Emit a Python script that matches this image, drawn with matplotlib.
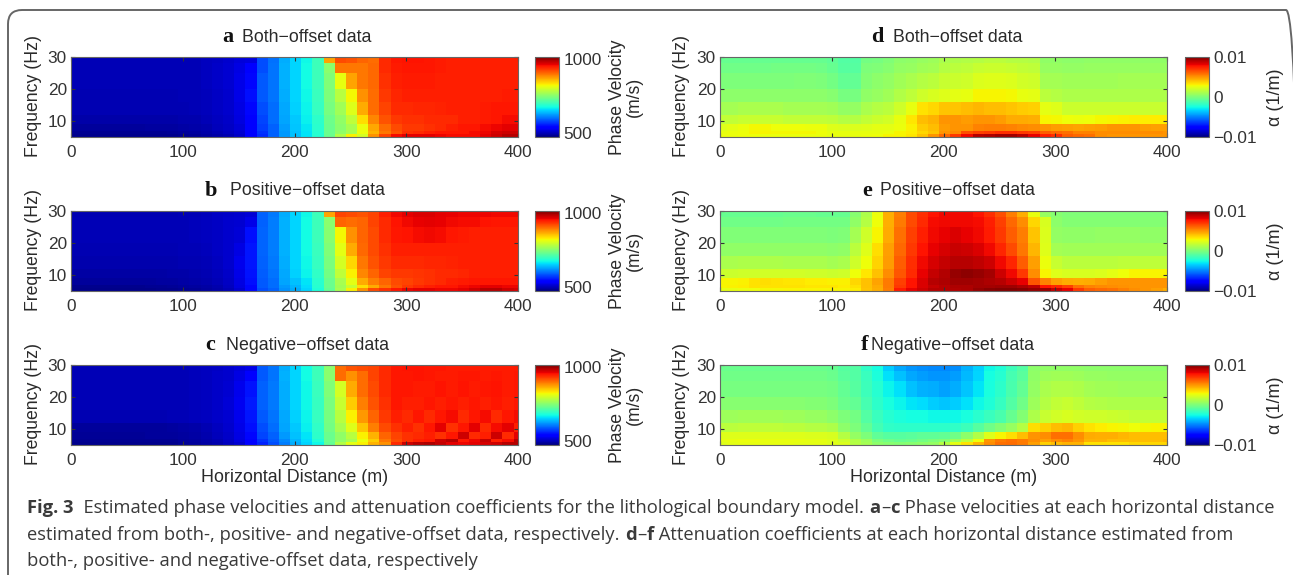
import numpy as np
from matplotlib import pyplot as plt
from matplotlib.patches import FancyBboxPatch
from matplotlib.transforms import IdentityTransform

W, H = 1293, 575

#cell edges
x_edges = [0, 6, 16, 26, 36, 46, 56, 66, 76, 86, 96, 106, 116, 126, 136, 146, 156, 166, 176, 186, 196,
           206, 216, 226, 236, 246, 256, 266, 276, 286, 296, 306, 316, 326, 336, 346, 356, 366, 376, 386, 396, 400]
f_edges = [5, 6, 7, 9, 12, 16, 20, 25, 28, 30]

#phase velocity (m/s), rows go from low to high frequency
vel_a = [
 [478,478,478,478,478,478,478,478,478,478, 480,482,485,490,495,505,530,560,590,620, 640,660,685,730,775,825,800,880,925,955, 965,965,965,960,955,955,955,965,975,985,985],
 [480,480,480,480,480,480,480,480,480,482, 484,486,490,495,500,510,530,565,590,620, 640,660,685,730,755,770,815,860,895,915, 935,940,945,950,950,950,955,960,970,975,975],
 [484,484,484,484,484,484,484,485,485,486, 488,490,493,498,503,512,530,570,590,622, 642,662,688,730,750,770,815,868,900,920, 930,930,935,940,945,950,950,955,960,965,965],
 [490,490,490,490,490,490,490,490,490,490, 492,493,496,500,505,515,535,575,595,625, 645,665,690,732,755,785,835,885,915,930, 935,935,938,940,940,945,945,948,950,955,955],
 [494,494,494,494,494,494,494,494,494,494, 495,496,498,502,507,518,540,580,597,628, 648,668,695,738,765,805,865,900,925,938, 940,942,942,943,945,945,946,948,950,950,950],
 [495,495,495,495,495,495,495,495,495,495, 496,497,499,503,508,520,545,585,600,630, 650,670,698,742,780,820,880,900,930,942, 945,945,945,945,945,945,945,945,945,948,948],
 [496,496,496,496,496,496,496,496,496,496, 497,497,500,504,509,520,540,585,600,632, 652,672,700,745,812,870,895,902,935,945, 948,948,948,946,945,945,945,945,945,945,945],
 [496,496,496,496,496,496,496,496,496,496, 497,497,500,504,509,518,530,580,600,632, 652,672,700,750,895,895,895,902,938,948, 950,950,950,948,946,945,945,945,945,945,945],
 [496,496,496,496,496,496,496,496,496,496, 497,497,500,503,508,514,516,578,598,630, 650,670,700,870,920,915,905,900,940,950, 952,952,950,948,946,945,945,945,945,945,945],
]
vel_b = [
 [476,476,476,476,476,476,476,476,477,478, 480,482,485,490,497,510,540,580,590,615, 630,650,680,725,770,825,880,920,935,950, 960,965,965,960,960,965,975,985,985,975,970],
 [478,478,478,478,478,478,478,479,480,481, 483,485,488,493,500,515,540,585,595,620, 635,655,685,730,765,790,835,865,895,915, 930,940,945,950,950,955,960,965,965,960,960],
 [483,483,483,483,483,483,484,484,485,486, 488,490,493,497,503,518,545,585,595,625, 640,660,688,730,770,810,865,890,905,920, 925,930,935,940,945,948,950,950,950,950,950],
 [488,488,488,488,488,488,488,489,489,490, 491,492,495,499,505,520,548,588,600,628, 648,668,692,735,785,825,885,905,925,930, 930,932,935,938,940,942,945,945,945,945,945],
 [492,492,492,492,492,492,492,492,492,493, 494,495,497,501,507,522,550,590,602,630, 650,670,696,740,800,840,895,915,930,938, 940,940,942,942,943,945,945,945,945,945,945],
 [495,495,495,495,495,495,495,495,495,495, 496,497,499,503,508,518,550,592,605,632, 652,672,698,745,810,865,902,920,935,945, 945,945,945,945,945,945,945,945,945,945,945],
 [496,496,496,496,496,496,496,496,496,496, 497,498,500,503,508,512,545,592,605,632, 652,672,700,748,820,880,905,920,938,950, 952,955,958,955,950,948,946,945,945,945,945],
 [496,496,496,496,496,496,496,496,496,496, 497,498,500,503,506,510,520,590,605,632, 652,672,700,750,905,900,905,925,940,952, 958,962,965,962,958,955,955,952,950,950,950],
 [495,495,495,495,495,495,495,495,495,495, 496,497,499,502,505,508,512,590,603,630, 650,670,700,870,925,920,915,925,945,958, 965,968,968,965,962,960,960,960,958,958,958],
]
vel_c = [
 [478,478,478,478,478,478,478,478,478,478, 481,484,488,493,500,510,530,555,580,605, 630,650,670,725,775,810,825,860,880,940, 975,985,990,980,965,960,965,970,975,985,985],
 [480,480,480,480,480,480,480,480,480,480, 483,486,490,495,503,515,535,565,585,610, 635,655,680,730,755,770,815,845,895,920, 935,945,950,975,985,950,960,980,945,955,985],
 [482,482,482,482,482,482,482,483,484,484, 486,489,493,498,505,518,540,575,590,620, 640,660,690,730,755,780,825,860,905,925, 935,940,945,935,950,975,940,945,975,940,965],
 [483,483,483,483,483,483,483,484,484,485, 488,490,495,500,507,520,545,580,595,625, 645,665,692,735,770,805,850,890,920,935, 945,935,950,965,935,950,965,940,955,965,945],
 [495,495,495,495,495,495,495,495,495,496, 497,498,500,504,510,522,550,585,600,628, 648,668,695,738,780,825,875,905,930,945, 940,950,940,950,955,940,950,955,940,950,955],
 [496,496,496,496,496,496,496,496,496,496, 497,498,501,505,511,525,552,590,602,630, 650,670,696,740,790,845,890,915,935,950, 945,945,950,945,950,945,950,945,950,945,950],
 [496,496,496,496,496,496,496,496,496,496, 497,498,500,504,510,522,548,590,602,630, 650,670,698,745,800,865,900,920,938,950, 950,948,948,952,948,952,948,950,952,948,950],
 [496,496,496,496,496,496,496,496,496,496, 497,498,500,504,508,518,530,585,600,632, 652,672,700,750,900,880,900,925,940,950, 950,952,950,948,948,950,950,948,950,948,950],
 [496,496,496,496,496,496,496,496,496,496, 497,498,500,503,507,514,520,585,600,630, 650,672,700,750,900,915,920,925,940,950, 952,952,950,950,948,948,948,948,948,948,948],
]

#attenuation coefficient in 1e-3 1/m, same row order
att_d = [
 [2.7,2.7,2.8,2.8,2.7,2.7,2.7,2.7,2.7,2.7, 2.6,2.6,2.6,2.7,2.8,3.0,3.0,3.3,4.0,5.0, 6.0,7.0,8.0,9.0,9.2,9.4,9.4,9.0,8.2,7.5, 7.2,6.2,6.0,5.8,5.2,5.0,5.0,5.0,5.0,5.0,5.0],
 [2.6,2.7,2.8,3.0,3.0,2.9,2.9,2.9,2.9,2.8, 2.6,2.6,2.6,2.6,2.6,2.7,3.0,3.2,3.6,4.0, 5.0,5.3,6.5,6.8,7.0,7.2,7.2,7.0,6.8,6.2, 6.0,5.8,5.4,5.4,5.2,5.2,5.2,5.2,5.2,5.2,5.0],
 [2.4,2.5,2.7,2.9,2.9,2.8,2.8,2.8,2.7,2.7, 2.4,2.3,2.3,2.4,2.5,2.5,2.7,3.1,3.9,4.2, 4.9,5.0,5.0,5.4,5.5,5.5,5.4,5.3,5.2,5.0, 4.9,4.8,4.7,4.8,4.9,5.0,5.0,5.0,4.9,4.8,4.8],
 [1.7,1.7,1.8,1.8,1.8,1.8,1.7,1.7,1.7,1.7, 1.6,1.4,1.4,1.7,1.9,2.1,2.6,3.3,4.2,4.4, 5.0,5.0,4.9,5.0,5.0,4.9,4.6,4.6,4.5,3.0, 2.9,2.8,2.7,2.8,2.9,3.0,3.1,3.2,3.2,3.2,3.2],
 [1.0,1.0,1.1,1.1,1.1,1.1,1.0,1.0,1.0,1.0, 0.9,0.6,0.6,1.1,1.4,1.5,2.0,2.6,3.4,3.6, 4.0,4.0,4.2,4.3,4.2,4.2,4.0,3.9,3.8,2.5, 2.4,1.9,1.9,1.9,1.9,1.9,1.9,1.9,1.8,1.8,1.8],
 [0.4,0.4,0.4,0.4,0.4,0.4,0.4,0.4,0.4,0.4, 0.3,-0.1,-0.1,0.5,0.7,0.9,1.3,1.6,2.0,2.2, 2.4,2.5,2.6,3.0,3.0,3.0,2.9,2.6,2.5,1.5, 1.4,1.2,1.2,1.2,1.2,1.2,1.2,1.2,1.2,1.2,1.2],
 [0.0,0.0,0.0,0.0,0.0,0.0,0.0,0.1,0.1,0.0, -0.2,-0.6,-0.6,0.2,0.4,0.6,0.9,1.1,1.4,1.5, 1.8,1.9,2.0,2.3,2.4,2.4,2.3,2.1,2.0,1.0, 1.0,0.9,0.9,0.9,0.9,0.9,1.0,1.0,1.0,1.0,1.0],
 [-0.3,-0.3,-0.3,-0.3,-0.3,-0.2,-0.2,-0.2,-0.2,-0.3, -0.5,-0.9,-0.9,0.0,0.1,0.3,0.6,0.7,0.9,1.0, 1.4,1.5,1.6,1.8,1.9,1.9,1.8,1.7,1.6,0.7, 0.7,0.6,0.6,0.7,0.7,0.7,0.7,0.7,0.7,0.7,0.7],
 [-0.5,-0.5,-0.5,-0.5,-0.5,-0.5,-0.5,-0.5,-0.5,-0.5, -0.7,-1.0,-1.0,-0.2,-0.1,0.1,0.4,0.5,0.7,0.8, 1.1,1.2,1.3,1.4,1.5,1.5,1.4,1.4,1.3,0.5, 0.5,0.4,0.4,0.5,0.5,0.5,0.5,0.5,0.5,0.5,0.5],
]
att_e = [
 [2.5,2.6,2.7,2.8,2.9,2.9,3.0,3.0,3.0,3.0, 3.0,3.0,3.2,4.0,4.5,5.5,7.6,8.2,8.6,9.0, 9.0,9.1,9.2,9.6,9.8,9.9,9.9,9.8,9.6,9.5, 8.8,8.2,7.0,6.2,6.0,5.8,5.5,5.2,5.0,4.8,4.5],
 [3.0,3.1,3.2,3.4,3.4,3.4,3.4,3.4,3.3,3.3, 3.3,3.2,3.4,4.1,4.6,5.6,7.0,7.8,8.4,8.8, 9.0,9.2,9.2,9.3,9.3,9.4,9.4,9.2,8.9,7.8, 7.4,6.8,5.8,5.4,5.3,5.2,5.1,5.0,5.0,5.0,5.0],
 [3.0,3.0,3.1,3.4,3.5,3.4,3.3,3.3,3.2,3.2, 3.1,3.1,3.6,4.1,4.7,5.6,6.8,7.8,8.4,9.0, 9.2,9.4,9.4,9.3,9.2,9.0,8.6,8.2,6.4,5.4, 4.8,4.6,4.5,4.6,4.8,5.0,5.0,5.0,5.0,5.0,5.0],
 [1.9,1.9,2.0,2.0,2.1,2.1,2.1,2.1,2.0,2.0, 1.9,2.0,2.8,3.3,4.1,5.2,6.4,7.3,8.2,8.8, 9.1,9.6,9.7,9.6,9.3,8.6,8.0,7.0,5.2,3.0, 2.4,2.2,2.2,2.2,2.3,2.5,2.8,3.0,3.0,3.0,3.0],
 [1.1,1.1,1.2,1.2,1.2,1.2,1.1,1.1,1.1,1.1, 1.0,1.1,2.0,2.8,3.7,4.9,6.2,7.2,8.0,8.5, 8.8,9.0,9.0,8.9,8.6,8.0,7.4,6.2,4.8,2.7, 1.8,1.5,1.5,1.5,1.5,1.5,1.6,1.6,1.6,1.6,1.6],
 [0.5,0.5,0.5,0.5,0.5,0.5,0.5,0.5,0.5,0.5, 0.4,0.5,1.5,2.4,3.5,4.8,6.0,7.0,7.8,8.2, 8.5,8.7,8.6,8.4,8.0,7.4,6.6,5.7,4.3,2.4, 1.0,0.9,0.9,0.9,0.9,0.9,0.9,0.9,0.9,0.9,0.9],
 [0.1,0.1,0.1,0.1,0.1,0.1,0.1,0.1,0.1,0.1, 0.0,0.1,1.0,2.0,3.0,4.6,5.8,6.8,7.5,8.0, 8.2,8.4,8.2,8.0,7.6,7.0,6.2,5.5,4.0,2.3, 0.6,0.5,0.5,0.5,0.6,0.6,0.6,0.6,0.5,0.5,0.5],
 [-0.3,-0.3,-0.3,-0.3,-0.3,-0.3,-0.2,-0.2,-0.2,-0.2, -0.2,-0.2,0.5,1.4,2.8,4.5,5.6,6.6,7.3,7.9, 8.0,8.0,8.0,7.9,7.5,6.8,6.0,5.2,3.6,2.2, 0.4,0.2,0.2,0.2,0.2,0.2,0.2,0.2,0.2,0.2,0.2],
 [-0.5,-0.5,-0.5,-0.5,-0.5,-0.5,-0.4,-0.4,-0.4,-0.5, -0.5,-0.5,0.3,1.2,2.7,4.5,5.5,6.6,7.2,7.8, 8.0,8.0,8.0,7.8,7.2,6.5,5.5,4.5,2.6,0.7, 0.3,0.1,0.1,0.1,0.1,0.1,0.1,0.1,0.1,0.1,0.1],
]
att_f = [
 [2.4,2.5,2.6,2.6,2.6,2.6,2.6,2.5,2.5,2.5, 2.4,2.3,1.4,1.0,0.4,0.3,0.2,0.3,0.4,0.6, 1.4,2.5,3.4,4.3,5.2,5.8,5.9,5.6,4.8,3.8, 4.2,4.4,4.4,3.4,3.4,3.4,3.4,3.6,3.6,3.6,3.6],
 [2.5,2.6,2.7,2.7,2.6,2.6,2.6,2.6,2.5,2.5, 2.4,2.0,1.3,0.8,0.0,-0.3,-0.5,-0.4,-0.2,0.0, 0.2,0.8,1.6,2.8,5.0,5.6,5.8,5.6,5.2,4.8, 5.2,5.4,5.0,4.4,4.4,4.2,4.2,4.2,4.2,4.2,4.3],
 [2.4,2.4,2.4,2.4,2.4,2.4,2.4,2.4,2.3,2.3, 2.2,1.4,0.6,0.0,-0.7,-0.9,-0.9,-0.8,-0.7,-0.7, -0.6,-0.3,0.4,1.3,2.4,3.0,3.5,4.2,5.0,5.2, 5.8,5.8,5.2,4.6,4.5,4.5,4.3,4.2,4.2,4.2,4.2],
 [1.5,1.5,1.6,1.6,1.6,1.6,1.5,1.5,1.4,1.4, 1.2,0.4,0.0,-0.6,-1.4,-1.8,-1.9,-1.9,-1.9,-1.9, -1.9,-1.8,-1.5,-0.9,-0.3,0.2,0.7,1.4,3.5,3.8, 4.2,4.3,3.8,3.4,3.2,3.0,2.9,2.8,2.9,3.0,3.0],
 [0.8,0.8,0.9,0.9,0.9,0.9,0.8,0.8,0.7,0.7, 0.4,0.0,-0.2,-1.0,-1.6,-2.1,-2.3,-2.5,-2.5,-2.6, -2.6,-2.6,-2.4,-2.0,-1.6,-1.2,-0.5,0.2,1.2,1.8, 2.1,2.2,2.1,2.0,2.0,1.9,1.8,1.7,1.7,1.7,1.7],
 [0.3,0.3,0.3,0.3,0.3,0.3,0.3,0.3,0.2,0.2, 0.0,-0.4,-0.6,-1.3,-1.9,-2.4,-2.7,-3.0,-3.2,-3.5, -3.6,-3.5,-3.1,-2.6,-2.2,-1.7,-1.0,-0.3,0.8,1.4, 1.7,1.8,1.6,1.4,1.3,1.2,1.2,1.2,1.2,1.2,1.2],
 [-0.1,-0.1,-0.1,-0.1,-0.1,-0.1,-0.1,-0.1,-0.1,-0.1, -0.2,-0.6,-0.9,-1.5,-2.1,-2.7,-3.1,-3.7,-4.0,-4.1, -4.3,-4.1,-3.6,-3.0,-2.4,-1.9,-1.2,-0.6,0.6,1.1, 1.3,1.3,1.2,1.0,0.9,0.9,0.8,0.8,0.8,0.8,0.8],
 [-0.3,-0.3,-0.3,-0.3,-0.3,-0.3,-0.3,-0.3,-0.3,-0.3, -0.4,-0.8,-1.0,-1.6,-2.3,-3.1,-3.7,-4.2,-4.4,-4.6, -4.6,-4.4,-3.9,-3.3,-2.5,-2.1,-1.3,-0.8,0.5,0.8, 0.9,0.9,0.8,0.7,0.7,0.6,0.6,0.6,0.6,0.6,0.6],
 [-0.4,-0.4,-0.4,-0.4,-0.4,-0.4,-0.4,-0.4,-0.4,-0.4, -0.5,-0.9,-1.0,-1.8,-2.5,-3.5,-4.2,-4.6,-4.7,-4.8, -4.8,-4.7,-4.0,-3.4,-2.6,-2.2,-1.5,-1.0,0.4,0.5, 0.5,0.5,0.5,0.4,0.4,0.4,0.4,0.4,0.4,0.4,0.4],
]

titles = ["Both\u2212offset data", "Positive\u2212offset data", "Negative\u2212offset data"]
x_ticks = [0, 100, 200, 300, 400]
y_ticks = [10, 20, 30]
xlabel = "Horizontal Distance (m)"
ylabel = "Frequency (Hz)"

plt.rcParams['font.family'] = ['Liberation Sans', 'DejaVu Sans']
text_col = '#2a2a2a'
fig = plt.figure(figsize=(W / 100, H / 100), dpi=100)


def px_axes(x0, y0, x1, y1):
    return fig.add_axes([x0 / W, 1 - y1 / H, (x1 - x0) / W, (y1 - y0) / H])


def put(x, y, s, **kw):
    kw.setdefault('color', text_col)
    kw.setdefault('va', 'center')
    return fig.text(x / W, 1 - y / H, s, **kw)


def panel(x0, y0, cx0, data, vmin, vmax, cticks, clabels, clab, clab_x, clab_size, letter, letter_x, title, title_x, last):
    ax = px_axes(x0, y0, x0 + 447, y0 + 80)
    m = ax.pcolormesh(x_edges, f_edges, np.array(data), cmap='jet', vmin=vmin, vmax=vmax, shading='flat')
    ax.set_xlim(0, 400)
    ax.set_ylim(5, 30)
    ax.set_xticks(x_ticks)
    ax.set_yticks(y_ticks)
    ax.tick_params(direction='in', length=3, width=0.8, labelsize=12.4, colors='#333333', top=True, right=True)
    ax.tick_params(axis='x', pad=6)
    ax.tick_params(axis='y', pad=3)
    for s in ax.spines.values():
        s.set_color('#666666')
        s.set_linewidth(0.8)
    put(x0 - 38, y0 + 39, ylabel, rotation=90, ha='center', fontsize=12.7)
    if last:
        put(x0 + 224, y0 + 113, xlabel, ha='center', fontsize=12.9)
    put(letter_x, y0 - 20, letter, family='Liberation Serif', fontweight='bold', fontsize=16, ha='center', color='#111111')
    put(title_x, y0 - 20, title, ha='left', fontsize=12.8)

    cax = px_axes(cx0, y0, cx0 + 24, y0 + 80)
    cb = fig.colorbar(m, cax=cax)
    cb.set_ticks(cticks)
    cb.set_ticklabels(clabels)
    cb.ax.tick_params(length=0, labelsize=12.4, colors='#333333', pad=3)
    cb.outline.set_edgecolor('#666666')
    cb.outline.set_linewidth(0.8)
    put(clab_x, y0 + 40, clab, rotation=90, ha='center', fontsize=clab_size, linespacing=1.05, multialignment='center')


vel_rows = [(57, vel_a, 'a', 228, titles[0], 242), (211, vel_b, 'b', 211, titles[1], 230), (365, vel_c, 'c', 210, titles[2], 226)]
for y0, d, let, lx, t, tx in vel_rows:
    panel(71, y0, 535, d, 470, 1012, [500, 1000], ['500', '1000'], "Phase Velocity\n(m/s)", 626, 12.7, let, lx, t, tx, y0 == 365)

att_rows = [(57, att_d, 'd', 877, titles[0], 893), (211, att_e, 'e', 867, titles[1], 880), (365, att_f, 'f', 865, titles[2], 871)]
for y0, d, let, lx, t, tx in att_rows:
    panel(720, y0, 1185, np.array(d) * 1e-3, -0.01, 0.01, [-0.01, 0, 0.01], ['\u22120.01', '0', '0.01'], "\u03b1 (1/m)", 1275, 13, let, lx, t, tx, y0 == 365)

#frame round the figure, right and bottom edges fall outside the picture
frame = FancyBboxPatch((8, -40), 1292, H - 10 + 40, boxstyle="round,pad=0,rounding_size=14",
                       transform=IdentityTransform(), fill=False, edgecolor='#666666', linewidth=1.4)
fig.add_artist(frame)

#caption with bold parts, each piece starts where the one before ended
cap_lines = [
    (508, [("Fig. 3", True), ("  Estimated phase velocities and attenuation coefficients for the lithological boundary model. ", False),
           ("a", True), ("\u2013", False), ("c", True), (" Phase velocities at each horizontal distance", False)]),
    (535, [("estimated from both-, positive- and negative-offset data, respectively. ", False), ("d", True), ("\u2013", False),
           ("f", True), (" Attenuation coefficients at each horizontal distance estimated from", False)]),
    (561, [("both-, positive- and negative-offset data, respectively", False)]),
]
rend = fig.canvas.get_renderer()
for y, parts in cap_lines:
    x = 27
    for s, bold in parts:
        t = put(x, y, s, family='Open Sans', fontsize=13.2, fontweight='bold' if bold else 'normal', ha='left', color='#3a3a3a')
        t.set_text(s.replace(' ', '\u00a0'))
        x += t.get_window_extent(rend).width + 0.5

fig.savefig('out.png', dpi=100)
